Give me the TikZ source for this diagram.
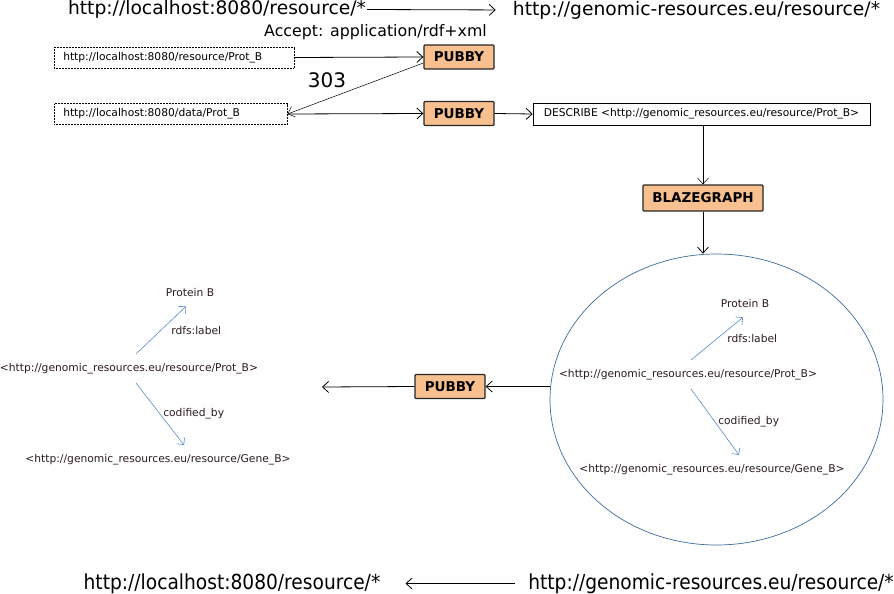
\documentclass[tikz,border=0pt]{standalone}
\usepackage{fontspec}
\setmainfont{DejaVu Sans}
\newfontfamily\condfont{DejaVu Sans Condensed}
\usetikzlibrary{arrows.meta,positioning,shapes.geometric}
\definecolor{pubbyfill}{HTML}{F9C08F}
\definecolor{rdfblue}{HTML}{5A8AC6}
\definecolor{ellblue}{HTML}{3F6A9C}
\definecolor{rdftext}{HTML}{2B1A22}
\tikzset{
 server/.style={draw=black!85,line width=1.3pt,rounded corners=1pt,fill=pubbyfill,
                font=\fontsize{13.5}{15}\selectfont\bfseries,minimum width=70pt,
                minimum height=24pt,inner sep=0pt},
 urlbox/.style={draw,densely dotted,line width=0.5pt,font=\fontsize{10.7}{12}\selectfont,align=left,
                minimum height=21pt,inner xsep=9pt,inner ysep=0pt,anchor=west},
 querybox/.style={draw,line width=0.6pt,font=\fontsize{10.7}{12}\selectfont,
                minimum width=337pt,minimum height=22pt,inner sep=0pt},
 bigurl/.style={font=\fontsize{18.7}{21}\selectfont,inner sep=1pt},
 rdfnode/.style={font=\fontsize{10.7}{12}\selectfont,text=rdftext,inner xsep=1pt,inner ysep=9pt},
 rdflabel/.style={font=\fontsize{10.7}{12}\selectfont,text=rdftext,inner sep=1pt},
 arrow/.style={-{Straight Barb[length=6pt,width=11pt]},line width=0.8pt},
 rdfarrow/.style={-{Straight Barb[length=5pt,width=10pt]},rdfblue,line width=0.6pt},
}

\begin{document}
\begin{tikzpicture}[x=1pt,y=-1pt]
\useasboundingbox (0,0) rectangle (894,594);
% request
\node[bigurl] (toplocal) at (217,9.5) {http://localhost:8080/resource/*};
\node[bigurl] (topgenomic) at (696.5,10) {http://genomic-resources.eu/resource/*};
\node[font=\fontsize{15.8}{18}\selectfont] (accept) at (375.5,32) {Accept: application/rdf+xml};
\draw[arrow] (toplocal.east) -- (topgenomic.west) [shorten >=16pt];

\node[urlbox,text width=222pt] (resurl) at (54,57.5) {http://localhost:8080/resource/Prot\_B};
\node[urlbox,text width=215pt] (dataurl) at (54,114) {http://localhost:8080/data/Prot\_B};
\node[server] (pubby1) at (459,57) {PUBBY};
\node[server] (pubby2) at (459,113.5) {PUBBY};
\node[querybox] (describe) at (701.5,114) {DESCRIBE <http://genomic\_resources.eu/resource/Prot\_B>};
\node[server,minimum width=120pt,minimum height=26pt] (blaze) at (703,198) {BLAZEGRAPH};

\draw[arrow] (resurl.east) -- (pubby1.west);
\draw[-{Straight Barb[length=6pt,width=11pt]},line width=0.5pt] ([yshift=-6pt]pubby1.west) -- (dataurl.east)
  node[pos=0.71,above=10pt,inner sep=1pt,font=\fontsize{20}{22}\selectfont] {303};
\draw[arrow] (dataurl.east) -- (pubby2.west);
\draw[arrow] (pubby2.east) -- (describe.west);
\draw[arrow,line width=0.5pt] (describe.south -| blaze.north) -- (blaze.north);

% triple store result
\node[draw=ellblue,line width=0.7pt,ellipse,minimum width=333pt,minimum height=291pt] (store) at (716.5,399.5) {};
\draw[arrow] (blaze.south) -- (blaze.south |- store.north);

\node[rdfnode] (protin) at (688,374.5) {<http://genomic\_resources.eu/resource/Prot\_B>};
\node[rdfnode] (labelin) at (745,304) {Protein B};
\node[rdfnode] (genein) at (712,469.5) {<http://genomic\_resources.eu/resource/Gene\_B>};
\draw[rdfarrow] ([xshift=3pt]protin.north) -- ([xshift=-2pt]labelin.south)
  node[rdflabel,midway,right=9pt] {rdfs:label};
\draw[rdfarrow] ([xshift=3pt]protin.south) -- ([xshift=27pt]genein.north)
  node[rdflabel,midway,right=2pt] {codified\_by};

% response
\node[server] (pubby3) at (450,386.5) {PUBBY};
\coordinate (client) at (322,387);
\draw[arrow] (pubby3.east -| store.west) -- (pubby3.east);
\draw[arrow] (pubby3.west) -- (client);

\node[rdfnode] (protout) at (129,368.5) {<http://genomic\_resources.eu/resource/Prot\_B>};
\node[rdfnode] (labelout) at (190,293) {Protein B};
\node[rdfnode] (geneout) at (158,459.5) {<http://genomic\_resources.eu/resource/Gene\_B>};
\draw[rdfarrow] ([xshift=7pt]protout.north) -- ([xshift=-4pt]labelout.south)
  node[rdflabel,midway,right=9pt] {rdfs:label};
\draw[rdfarrow] ([xshift=7pt]protout.south) -- ([xshift=26pt]geneout.north)
  node[rdflabel,midway,right=2pt] {codified\_by};

% rewriting
\node[bigurl,font=\condfont\fontsize{20.7}{23}\selectfont] (botlocal) at (232,583.5) {http://localhost:8080/resource/*};
\node[bigurl,font=\condfont\fontsize{20.7}{23}\selectfont] (botgenomic) at (711,583.5) {http://genomic-resources.eu/resource/*};
\draw[arrow] (botgenomic.west) -- (botlocal.east) [shorten <=12pt,shorten >=24pt];
\end{tikzpicture}
\end{document}
